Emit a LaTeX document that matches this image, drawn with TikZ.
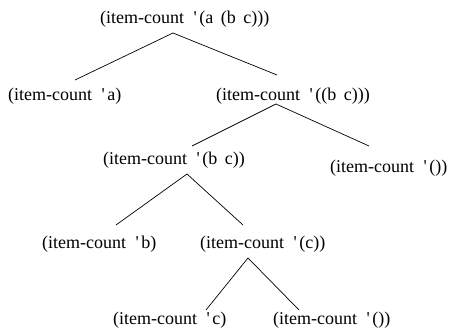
\documentclass[tikz,border=0pt]{standalone}
\usepackage{fontspec}
\setmainfont{Liberation Serif}
\newcommand{\q}{\hspace{9.5pt}\textquotesingle\hspace{2.5pt}}
\newcommand{\g}{\hspace{7.5pt}}
\begin{document}
\begin{tikzpicture}[x=1pt,y=-1pt,
  lbl/.style={anchor=base west,inner sep=0pt,font=\fontsize{18}{20}\selectfont},
  edge/.style={draw=black,line width=0.7pt}]
\useasboundingbox (0,0) rectangle (453,334);
\node[lbl] (root) at (100,24) {(item-count\q(a\g(b\g c)))};
\node[lbl] (na) at (8,101) {(item-count\q a)};
\node[lbl] (nbc1) at (216,101) {(item-count\q((b\g c)))};
\node[lbl] (nbc) at (103,165) {(item-count\q(b\g c))};
\node[lbl] (nnil1) at (330,173) {(item-count\q())};
\node[lbl] (nb) at (42,249) {(item-count\q b)};
\node[lbl] (nc1) at (200,249) {(item-count\q(c))};
\node[lbl] (nc) at (113,324) {(item-count\q c)};
\node[lbl] (nnil2) at (273,324) {(item-count\q())};
\coordinate (p0) at (173,33);
\coordinate (e0a) at (75,80);
\coordinate (e0b) at (277,75);
\coordinate (p1) at (276,104);
\coordinate (e1a) at (192,146);
\coordinate (e1b) at (369,146);
\coordinate (p2) at (187,174);
\coordinate (e2a) at (116,225);
\coordinate (e2b) at (243,225);
\coordinate (p3) at (248,258);
\coordinate (e3a) at (206,310);
\coordinate (e3b) at (299,310);
\draw[edge] (e0a) -- (p0) -- (e0b);
\draw[edge] (e1a) -- (p1) -- (e1b);
\draw[edge] (e2a) -- (p2) -- (e2b);
\draw[edge] (e3a) -- (p3) -- (e3b);
\end{tikzpicture}
\end{document}
